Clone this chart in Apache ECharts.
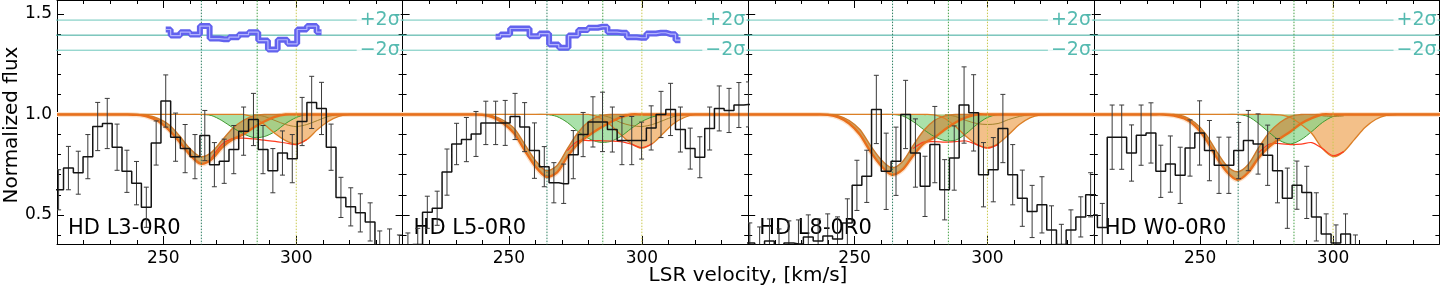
<!DOCTYPE html>
<html><head><meta charset="utf-8">
<script src="https://cdn.jsdelivr.net/npm/echarts@6/dist/echarts.min.js"></script>
<style>html,body{margin:0;padding:0;background:#fff}#c{width:1440px;height:288px}</style>
</head><body><div id="c"></div>
<script>
// ---------- data ----------
const panelNames = ['HD L3-0R0', 'HD L5-0R0', 'HD L8-0R0', 'HD W0-0R0'];
const xTickLabels = [250, 300];
const xMinorTicks = [220, 230, 240, 260, 270, 280, 290, 310, 320, 330];
const yTickLabels = [0.5, 1.0, 1.5];
const yMinorTicks = [0.4, 0.6, 0.7, 0.8, 0.9, 1.1, 1.2, 1.3, 1.4];
const componentVel = [264.3, 285.3, 300.0];
const sigmaLevels = [1.47, 1.395, 1.32];
const sigmaText = ['+2σ', '', '−2σ'];

// observed spectra (bin centres, flux, 1-sigma error)
const vel1 = [206.9,210.6,214.3,218.0,221.6,225.3,228.9,232.6,236.3,239.9,243.6,247.3,250.9,254.6,258.2,261.9,265.6,269.2,272.9,276.5,280.2,283.9,287.5,291.2,294.8,298.5,302.2,305.8,309.5,313.1,316.8,320.5,324.1,327.8,331.4,335.1,338.8,342.4];
const flux1 = [0.625,0.625,0.733,0.71,0.79,0.94,0.955,0.837,0.717,0.658,0.538,0.858,1.067,0.887,0.83,0.79,0.895,0.75,0.767,0.825,0.917,0.975,0.825,0.72,0.808,0.78,0.965,1.06,1.03,0.837,0.587,0.54,0.51,0.465,0.33,0.34,0.33,0.33];
const err1 = [0.1,0.1,0.108,0.107,0.11,0.12,0.125,0.115,0.105,0.108,0.1,0.11,0.13,0.12,0.12,0.11,0.125,0.11,0.11,0.12,0.12,0.13,0.12,0.11,0.11,0.12,0.12,0.13,0.13,0.115,0.1,0.095,0.095,0.095,0.09,0.09,0.07,0.07];

const vel2 = [208.3,212.0,215.7,219.3,223.0,226.7,230.3,234.0,237.6,241.3,245.0,248.6,252.3,255.9,259.6,263.3,266.9,270.6,274.2,277.9,281.6,285.2,288.9,292.5,296.2,299.9,303.5,307.2,310.8,314.5,318.2,321.8,325.5,329.1,332.8,336.5,340.1,343.8];
const flux2 = [0.33,0.33,0.353,0.513,0.533,0.713,0.853,0.875,0.903,0.958,0.958,0.958,0.99,0.937,0.82,0.74,0.66,0.655,0.8,0.9,0.963,0.963,0.925,0.87,0.87,0.87,0.933,1.0,1.025,0.925,0.83,0.787,0.93,1.03,1.02,1.047,1.05,1.05];
const err2 = [0.08,0.08,0.08,0.08,0.085,0.115,0.103,0.11,0.112,0.108,0.108,0.112,0.115,0.122,0.138,0.1,0.1,0.098,0.12,0.11,0.125,0.148,0.112,0.12,0.12,0.092,0.11,0.115,0.13,0.112,0.102,0.102,0.107,0.112,0.11,0.112,0.112,0.112];

const vel3 = vel1;
const flux3 = [0.36,0.36,0.34,0.37,0.33,0.36,0.355,0.39,0.37,0.395,0.38,0.46,0.647,0.692,1.025,0.717,0.767,1.0,0.808,0.642,0.85,0.625,0.783,1.047,1.008,0.7,0.725,0.93,0.7,0.583,0.517,0.55,0.425,0.353,0.425,0.49,0.6,0.6];
const err3 = [0.1,0.1,0.1,0.11,0.1,0.11,0.12,0.11,0.11,0.11,0.11,0.12,0.125,0.13,0.17,0.19,0.17,0.17,0.17,0.15,0.19,0.15,0.16,0.19,0.19,0.16,0.16,0.17,0.15,0.14,0.13,0.14,0.12,0.1,0.1,0.1,0.11,0.11];

const vel4 = [205.8,209.5,213.2,216.9,220.5,224.2,227.8,231.5,235.2,238.8,242.5,246.2,249.8,253.5,257.1,260.8,264.5,268.1,271.8,275.4,279.1,282.8,286.4,290.1,293.7,297.4,301.1,304.7,308.4,312.0,315.7,319.4,323.0,326.7,330.3,334.0,337.7,341.3];
const flux4 = [0.5,0.5,0.437,0.887,0.887,0.808,0.897,0.908,0.717,0.753,0.697,0.833,0.908,0.82,0.747,0.747,0.82,0.87,0.853,0.797,0.72,0.583,0.648,0.612,0.49,0.405,0.36,0.405,0.34,0.28,0.25,0.25,0.25,0.25,0.25,0.25,0.25,0.25];
const err4 = [0.1,0.1,0.12,0.16,0.16,0.14,0.15,0.15,0.13,0.14,0.14,0.14,0.16,0.15,0.14,0.14,0.14,0.15,0.15,0.15,0.16,0.15,0.12,0.13,0.12,0.1,0.09,0.1,0.06,0.05,0.05,0.05,0.05,0.05,0.05,0.05,0.05,0.05];

// residuals (blue), only in panels 1 and 2
const resVel1 = [250.9,254.6,258.2,261.9,265.6,269.2,272.9,276.5,280.2,283.9,287.5,291.2,294.8,298.5,302.2,305.8,309.5];
const res1 = [1.423,1.393,1.41,1.398,1.44,1.378,1.375,1.385,1.398,1.41,1.368,1.323,1.372,1.352,1.423,1.44,1.41];
const resVel2 = [245.0,248.6,252.3,255.9,259.6,263.3,266.9,270.6,274.2,277.9,281.6,285.2,288.9,292.5,296.2,299.9,303.5,307.2,310.8,314.5];
const res2 = [1.387,1.398,1.428,1.428,1.39,1.403,1.348,1.332,1.393,1.42,1.432,1.437,1.41,1.407,1.385,1.382,1.403,1.407,1.4,1.37];

// model profiles sampled at modelVel
const modelVel = [206,232,236,240,244,248,252,256,260,264,268,272,276,280,284,288,292,296,300,304,308,312,316,320,324,328,344];
const N = null;
const mainLo1 = [1,1,1,0.998,0.99,0.968,0.925,0.865,0.80,0.755,0.775,0.835,0.875,0.90,0.935,0.965,0.988,1,1,1,1,1,1,1,1,1,1];
const mainHi1 = [1,1,1,1,0.995,0.98,0.95,0.895,0.83,0.79,0.81,0.87,0.93,0.97,0.993,1,1,1,1,1,1,1,1,1,1,1,1];
const compB1 = [1,1,1,1,1,1,1,1,1,1,0.995,0.97,0.935,0.905,0.885,0.89,0.915,0.955,0.985,1,1,1,1,1,1,1,1];
const compC1 = [1,1,1,1,1,1,1,1,1,1,1,1,1,1,0.985,0.95,0.905,0.87,0.853,0.875,0.925,0.965,0.99,1,1,1,1];
const compCHi1 = [N,N,N,N,N,N,N,N,N,N,N,N,N,N,1.0,0.99,0.97,0.95,0.94,0.95,0.97,0.99,1.0,N,N,N,N];
const total1 = [N,N,N,N,N,N,N,N,N,N,0.78,0.85,0.88,0.882,0.878,0.872,0.866,0.858,0.85,0.875,N,N,N,N,N,N,N];

const mainLo2 = [1,1,1,0.998,0.985,0.955,0.905,0.82,0.74,0.69,0.71,0.79,0.855,0.895,0.93,0.96,0.985,1,1,1,1,1,1,1,1,1,1];
const mainHi2 = [1,1,1,1,0.993,0.97,0.93,0.85,0.77,0.72,0.745,0.83,0.91,0.965,0.992,1,1,1,1,1,1,1,1,1,1,1,1];
const compB2 = [1,1,1,1,1,1,1,1,1,1,0.99,0.96,0.915,0.88,0.862,0.865,0.89,0.93,0.965,0.988,1,1,1,1,1,1,1];
const compC2 = [1,1,1,1,1,1,1,1,1,1,1,1,1,1,0.985,0.95,0.9,0.855,0.832,0.855,0.905,0.955,0.985,1,1,1,1];
const compCHi2 = [N,N,N,N,N,N,N,N,N,N,N,N,N,N,1.0,0.985,0.96,0.945,0.94,0.95,0.97,0.99,1.0,N,N,N,N];
const total2 = [N,N,N,N,N,N,N,N,N,N,N,0.82,0.868,0.87,0.87,0.868,0.865,0.852,0.835,0.855,N,N,N,N,N,N,N];

const mainLo3 = [1,1,1,0.998,0.985,0.955,0.9,0.815,0.745,0.70,0.725,0.795,0.855,0.885,0.925,0.96,0.985,1,1,1,1,1,1,1,1,1,1];
const mainHi3 = [1,1,1,1,0.993,0.97,0.925,0.845,0.775,0.735,0.765,0.845,0.92,0.97,0.993,1,1,1,1,1,1,1,1,1,1,1,1];
const compB3 = [1,1,1,1,1,1,1,1,1,1,0.993,0.965,0.925,0.89,0.87,0.872,0.905,0.95,0.985,1,1,1,1,1,1,1,1];
const compC3 = [1,1,1,1,1,1,1,1,1,1,1,1,1,0.998,0.98,0.94,0.89,0.85,0.835,0.855,0.9,0.95,0.983,0.998,1,1,1];
const compCHi3 = [N,N,N,N,N,N,N,N,N,N,N,N,N,N,1.0,0.99,0.97,0.955,0.95,0.955,0.975,0.99,1.0,N,N,N,N];
const total3 = [N,N,N,N,N,N,N,N,N,N,N,0.83,0.862,0.865,0.862,0.865,0.868,0.85,0.832,0.85,N,N,N,N,N,N,N];

const mainLo4 = [1,1,1,0.995,0.98,0.945,0.88,0.79,0.715,0.675,0.71,0.785,0.84,0.88,0.915,0.955,0.982,1,1,1,1,1,1,1,1,1,1];
const mainHi4 = [1,1,1,1,0.99,0.96,0.905,0.82,0.745,0.715,0.75,0.835,0.91,0.96,0.99,1,1,1,1,1,1,1,1,1,1,1,1];
const compB4 = [1,1,1,1,1,1,1,1,1,1,0.99,0.955,0.91,0.87,0.853,0.875,0.915,0.96,0.99,1,1,1,1,1,1,1,1];
const compC4 = [1,1,1,1,1,1,1,1,1,1,1,1,1,0.998,0.985,0.95,0.905,0.83,0.79,0.815,0.875,0.935,0.975,0.995,1,1,1];
const compCHi4 = [N,N,N,N,N,N,N,N,N,N,N,N,N,N,N,N,N,0.993,0.99,0.993,N,N,N,N,N,N,N];
const total4 = [N,N,N,N,N,N,N,N,N,N,N,0.81,0.852,0.855,0.85,0.852,0.86,0.83,0.795,0.815,N,N,N,N,N,N,N];

// ---------- build ----------
const panels = [
  {vel: vel1, flux: flux1, err: err1, resVel: resVel1, res: res1, lo: mainLo1, hi: mainHi1, b: compB1, c: compC1, chi: compCHi1, tot: total1},
  {vel: vel2, flux: flux2, err: err2, resVel: resVel2, res: res2, lo: mainLo2, hi: mainHi2, b: compB2, c: compC2, chi: compCHi2, tot: total2},
  {vel: vel3, flux: flux3, err: err3, resVel: [], res: [], lo: mainLo3, hi: mainHi3, b: compB3, c: compC3, chi: compCHi3, tot: total3},
  {vel: vel4, flux: flux4, err: err4, resVel: [], res: [], lo: mainLo4, hi: mainHi4, b: compB4, c: compC4, chi: compCHi4, tot: total4}
];

const FONT = 'DejaVu Sans';
const GL = [57, 402.6, 748.2, 1093.8];
const GW = 345.6, GH = 244;
const TEAL = '#2aa99c';
const SM = 0.3;

function pairs(vals) {
  const out = [];
  vals.forEach((y, k) => { if (y !== null) out.push([modelVel[k], y]); });
  return out;
}
function polySeries(gi, pts, style, z, closed) {
  return {
    type: 'custom', xAxisIndex: 4 * gi, yAxisIndex: 4 * gi, z: z, silent: true, clip: true,
    data: [[0, 0]],
    renderItem: function (p, api) {
      const P = pts.map(q => api.coord(q));
      return {type: closed ? 'polygon' : 'polyline', shape: {points: P, smooth: SM}, style: style};
    }
  };
}
function bandPts(upper, lower) {
  const u = pairs(upper), l = pairs(lower).reverse();
  return u.concat(l);
}
const ones = modelVel.map(() => 1);

const grids = GL.map(l => ({left: l, top: 0, width: GW, height: GH, containLabel: false, outerBoundsMode: 'none'}));
const xAxes = [], yAxes = [];
const blk = {color: '#000', width: 1};
for (let gi = 0; gi < 4; gi++) {
  const base = {gridIndex: gi, type: 'value', min: 210, max: 340, splitLine: {show: false}};
  xAxes.push(Object.assign({}, base, {position: 'bottom', axisLine: {onZero: false, lineStyle: blk},
    axisTick: {inside: true, length: 8, customValues: xTickLabels, lineStyle: blk},
    axisLabel: {customValues: xTickLabels, color: '#000', fontSize: 17, margin: 6, fontFamily: FONT}}));
  xAxes.push(Object.assign({}, base, {position: 'bottom', axisLine: {show: false},
    axisTick: {inside: true, length: 4, customValues: xMinorTicks, lineStyle: blk}, axisLabel: {show: false}}));
  xAxes.push(Object.assign({}, base, {position: 'top', axisLine: {onZero: false, lineStyle: blk},
    axisTick: {inside: true, length: 8, customValues: xTickLabels, lineStyle: blk}, axisLabel: {show: false}}));
  xAxes.push(Object.assign({}, base, {position: 'top', axisLine: {show: false},
    axisTick: {inside: true, length: 4, customValues: xMinorTicks, lineStyle: blk}, axisLabel: {show: false}}));
  const yb = {gridIndex: gi, type: 'value', min: 0.355, max: 1.57, splitLine: {show: false}};
  yAxes.push(Object.assign({}, yb, {position: 'left', axisLine: {onZero: false, lineStyle: blk},
    axisTick: {inside: true, length: 7, customValues: yTickLabels, lineStyle: blk},
    axisLabel: gi === 0 ? {customValues: yTickLabels, formatter: v => v.toFixed(1), color: '#000', fontSize: 17, margin: 5, fontFamily: FONT} : {show: false}}));
  yAxes.push(Object.assign({}, yb, {position: 'left', axisLine: {show: false},
    axisTick: {inside: true, length: 4, customValues: yMinorTicks, lineStyle: blk}, axisLabel: {show: false}}));
  yAxes.push(Object.assign({}, yb, {position: 'right', axisLine: {onZero: false, lineStyle: blk},
    axisTick: {inside: true, length: 7, customValues: yTickLabels, lineStyle: blk}, axisLabel: {show: false}}));
  yAxes.push(Object.assign({}, yb, {position: 'right', axisLine: {show: false},
    axisTick: {inside: true, length: 4, customValues: yMinorTicks, lineStyle: blk}, axisLabel: {show: false}}));
}

const series = [];
panels.forEach((P, gi) => {
  const ax = {xAxisIndex: 4 * gi, yAxisIndex: 4 * gi};
  // teal reference lines
  sigmaLevels.forEach((lev, k) => {
    series.push(Object.assign({type: 'line', data: [[200, lev], [350, lev]], symbol: 'none', silent: true, z: 2,
      lineStyle: {color: k === 1 ? '#38a89b' : '#6cc7bb', width: 1}}, ax));
  });
  // model: faint halo of the total profile
  series.push(polySeries(gi, pairs(P.lo), {fill: 'none', stroke: '#fde3cc', lineWidth: 5}, 3, false));
  // component fills
  series.push(polySeries(gi, bandPts(ones, P.c), {fill: '#eea85c', opacity: 0.72}, 4, true));
  series.push(polySeries(gi, bandPts(ones, P.b), {fill: '#86d486', opacity: 0.7}, 4, true));
  series.push(polySeries(gi, bandPts(P.hi, P.lo), {fill: '#c49a52', opacity: 0.85}, 4, true));
  // edges
  series.push(polySeries(gi, pairs(P.b), {fill: 'none', stroke: '#3f9a2e', lineWidth: 1}, 5, false));
  series.push(polySeries(gi, pairs(P.c), {fill: 'none', stroke: '#dc7f26', lineWidth: 1.3}, 5, false));
  series.push(polySeries(gi, pairs(P.chi), {fill: 'none', stroke: '#a4832e', lineWidth: 1}, 5, false));
  series.push(polySeries(gi, pairs(P.tot), {fill: 'none', stroke: '#ff3b1f', lineWidth: 1.2}, 5, false));
  series.push(polySeries(gi, pairs(P.hi), {fill: 'none', stroke: '#cf7a2a', lineWidth: 1.4}, 5, false));
  series.push(polySeries(gi, pairs(P.lo), {fill: 'none', stroke: '#e8701c', lineWidth: 2.4}, 5, false));
  // vertical component markers
  const vcol = ['#2f7f62', '#45a045', '#c9c84e'];
  componentVel.forEach((v, k) => {
    series.push(Object.assign({type: 'line', data: [[v, 0.2], [v, 1.8]], symbol: 'none', silent: true, z: 6,
      lineStyle: {color: vcol[k], width: 1, type: [1.5, 1.5]}}, ax));
  });
  // error bars
  series.push(Object.assign({
    type: 'custom', z: 7, silent: true, clip: true,
    data: P.vel.map((v, i) => [v, P.flux[i] - P.err[i], P.flux[i] + P.err[i]]),
    encode: {x: 0, y: [1, 2]},
    renderItem: function (p, api) {
      const x = api.value(0);
      const a = api.coord([x, api.value(1)]), b = api.coord([x, api.value(2)]);
      const st = {stroke: '#3a3a3a', lineWidth: 1};
      return {type: 'group', children: [
        {type: 'line', shape: {x1: a[0], y1: a[1], x2: b[0], y2: b[1]}, style: st},
        {type: 'line', shape: {x1: a[0] - 2.5, y1: a[1], x2: a[0] + 2.5, y2: a[1]}, style: st},
        {type: 'line', shape: {x1: b[0] - 2.5, y1: b[1], x2: b[0] + 2.5, y2: b[1]}, style: st}
      ]};
    }
  }, ax));
  // histogram
  series.push(Object.assign({type: 'line', step: 'middle', symbol: 'none', silent: true, z: 8,
    data: P.vel.map((v, i) => [v, P.flux[i]]), lineStyle: {color: '#141414', width: 1.5}}, ax));
  // residuals
  if (P.res.length) {
    const rd = P.resVel.map((v, i) => [v, P.res[i]]);
    series.push(Object.assign({type: 'line', step: 'middle', symbol: 'none', silent: true, z: 9, data: rd,
      lineStyle: {color: '#6262ee', width: 6}}, ax));
    series.push(Object.assign({type: 'line', step: 'middle', symbol: 'none', silent: true, z: 9, data: rd,
      lineStyle: {color: 'rgba(190,190,255,0.9)', width: 1.2}}, ax));
  }
  // sigma labels
  series.push(Object.assign({type: 'scatter', symbolSize: 0, silent: true, z: 10,
    data: sigmaLevels.map((lev, k) => ({value: [339.3, lev], name: sigmaText[k]})).filter(d => d.name),
    label: {show: true, position: 'left', distance: 0, formatter: p => p.name, color: TEAL, fontSize: 19,
      fontFamily: FONT, backgroundColor: '#fff', padding: [0, 1, 0, 3]}}, ax));
});

const graphic = [
  {type: 'text', x: 12, y: 125, rotation: Math.PI / 2, z: 1,
    style: {text: 'Normalized flux', font: '20px "DejaVu Sans"', fill: '#000', align: 'center', verticalAlign: 'middle'}},
  {type: 'text', x: 748, y: 276, z: 1,
    style: {text: 'LSR velocity, [km/s]', font: '20px "DejaVu Sans"', fill: '#000', align: 'center', verticalAlign: 'middle'}}
].concat(panelNames.map((t, gi) => ({type: 'text', x: GL[gi] + 11, y: 229, z: 1,
    style: {text: t, font: '21px "DejaVu Sans"', fill: '#000', align: 'left', verticalAlign: 'middle'}})));

const chart = echarts.init(document.getElementById('c'));
chart.setOption({
  animation: false,
  backgroundColor: '#fff',
  textStyle: {fontFamily: FONT},
  grid: grids, xAxis: xAxes, yAxis: yAxes,
  series: series, graphic: graphic
});
</script></body></html>
